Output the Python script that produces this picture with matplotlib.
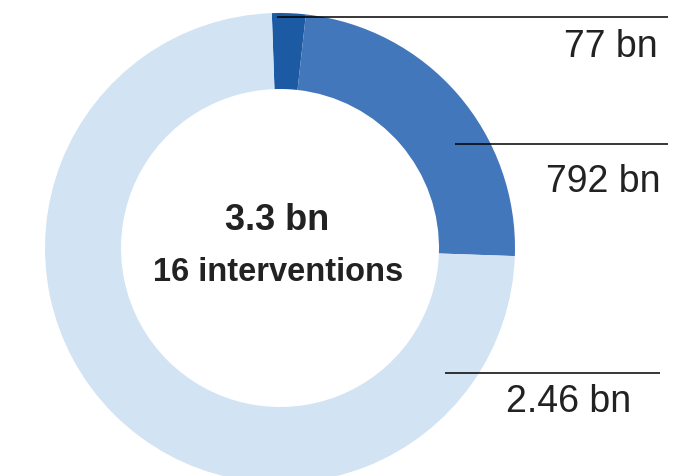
import matplotlib
matplotlib.use("Agg")
import matplotlib.pyplot as plt

# spending by group (bn), drawn clockwise from the top
values = [77, 792, 2460]
labels = ["77 bn", "792 bn", "2.46 bn"]
colors = ["#1c5aa3", "#4277bb", "#d2e3f4"]
total_label = "3.3 bn"
count_label = "16 interventions"

W, H = 681, 477
plt.rcParams["font.family"] = ["Liberation Sans", "DejaVu Sans"]

fig = plt.figure(figsize=(W / 100, H / 100), dpi=100)
ax = fig.add_axes([0, 0, 1, 1])

cx, cy = 280, H - 249
r_out, r_in = 235, 159
ax.pie(values, colors=colors, startangle=92, counterclock=False,
       center=(cx, cy), radius=r_out,
       wedgeprops=dict(width=r_out - r_in, linewidth=0))

ax.set_xlim(0, W)
ax.set_ylim(0, H)
ax.set_aspect("equal")
ax.axis("off")

# leader lines (pixel rows from the top) and label anchors
lines = [(277, 668, 18), (455, 668, 145), (445, 660, 374)]
text_pos = [(658, 57), (660, 192), (631, 412)]
for (x0, x1, y), (tx, ty), lab in zip(lines, text_pos, labels):
    ax.plot([x0, x1], [H - y, H - y], color="black", lw=1.1,
            solid_capstyle="butt")
    ax.text(tx, H - ty, lab, ha="right", va="baseline", fontsize=27,
            color="#222222")

ax.text(cx - 3, H - 230, total_label, ha="center", va="baseline",
        fontsize=26, fontweight="bold", color="#222222")
ax.text(cx - 2, H - 281, count_label, ha="center", va="baseline",
        fontsize=23.5, fontweight="bold", color="#222222")

fig.savefig("out.png", dpi=100)
